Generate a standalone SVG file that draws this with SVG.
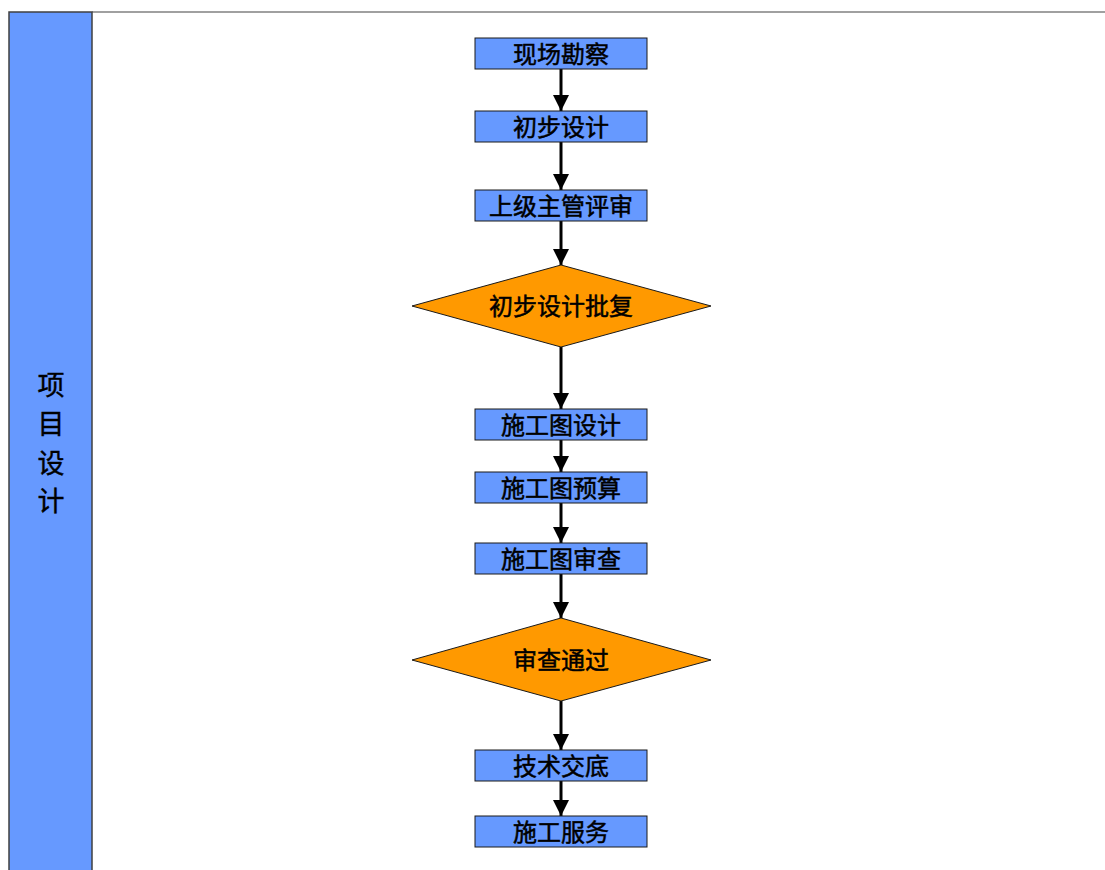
<svg xmlns="http://www.w3.org/2000/svg" width="1105" height="870" viewBox="0 0 1105 870">
<style>
.box{fill:#6699ff;stroke:#1a1a1a;stroke-width:1}
.dia{fill:#ff9900;stroke:#1a1a1a;stroke-width:1}
.t{font-family:"Noto Sans CJK SC",sans-serif;font-size:24px;font-weight:normal;fill:#000;stroke:#000;stroke-width:0.5;text-anchor:middle;dominant-baseline:central}
.lt{font-family:"Noto Sans CJK SC",sans-serif;font-size:27px;fill:#000;stroke:#000;stroke-width:0.4;text-anchor:middle;dominant-baseline:central}
.c{stroke:#000;stroke-width:3;fill:none;marker-end:url(#ah)}
</style>
<defs>
<marker id="ah" markerUnits="userSpaceOnUse" markerWidth="17" markerHeight="17" refX="16" refY="8" orient="auto">
<path d="M0,0 L16,8 L0,16 Z" fill="#000"/>
</marker>
</defs>
<rect width="1105" height="870" fill="#fff"/>
<g id="lane">
<line x1="92" y1="12" x2="1105" y2="12" stroke="#808080" stroke-width="1.5"/>
<rect x="9" y="12" width="83" height="870" fill="#6699ff" stroke="#404040" stroke-width="1.5"/>
<text class="lt" x="51" y="383">项</text>
<text class="lt" x="51" y="422">目</text>
<text class="lt" x="51" y="461">设</text>
<text class="lt" x="51" y="499">计</text>
</g>
<g id="connectors">
<line class="c" x1="561" y1="69" x2="561" y2="111"/>
<line class="c" x1="561" y1="142" x2="561" y2="190"/>
<line class="c" x1="561" y1="221" x2="561" y2="265"/>
<line class="c" x1="561" y1="347" x2="561" y2="409"/>
<line class="c" x1="561" y1="440" x2="561" y2="472"/>
<line class="c" x1="561" y1="503" x2="561" y2="543"/>
<line class="c" x1="561" y1="574" x2="561" y2="618"/>
<line class="c" x1="561" y1="701" x2="561" y2="750"/>
<line class="c" x1="561" y1="781" x2="561" y2="816"/>
</g>
<g id="n1"><rect class="box" x="475" y="38" width="172" height="31"/><text class="t" x="561" y="52">现场勘察</text></g>
<g id="n2"><rect class="box" x="475" y="111" width="172" height="31"/><text class="t" x="561" y="125">初步设计</text></g>
<g id="n3"><rect class="box" x="475" y="190" width="172" height="31"/><text class="t" x="561" y="204">上级主管评审</text></g>
<g id="n4"><polygon class="dia" points="561,265 711,306 561,347 412,306"/><text class="t" x="561" y="304">初步设计批复</text></g>
<g id="n5"><rect class="box" x="475" y="409" width="172" height="31"/><text class="t" x="561" y="423">施工图设计</text></g>
<g id="n6"><rect class="box" x="475" y="472" width="172" height="31"/><text class="t" x="561" y="486">施工图预算</text></g>
<g id="n7"><rect class="box" x="475" y="543" width="172" height="31"/><text class="t" x="561" y="557">施工图审查</text></g>
<g id="n8"><polygon class="dia" points="561,618 711,660 561,701 412,660"/><text class="t" x="561" y="658">审查通过</text></g>
<g id="n9"><rect class="box" x="475" y="750" width="172" height="31"/><text class="t" x="561" y="764">技术交底</text></g>
<g id="n10"><rect class="box" x="475" y="816" width="172" height="31"/><text class="t" x="561" y="830">施工服务</text></g>
</svg>
